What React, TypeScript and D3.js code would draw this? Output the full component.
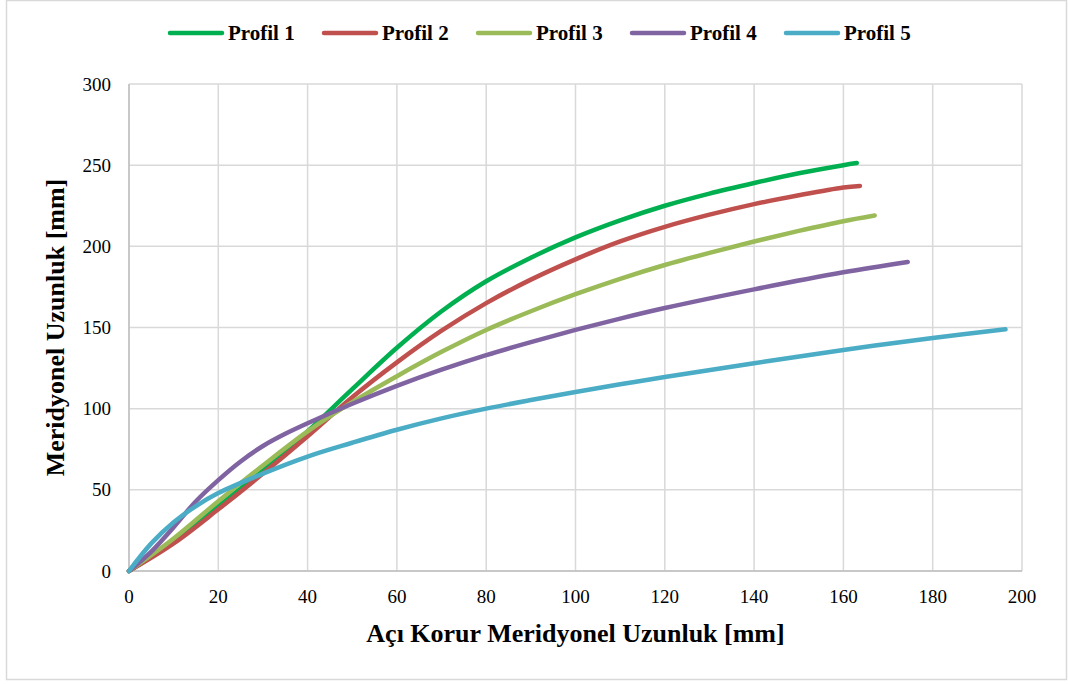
import React from "react";
import * as d3 from "d3";

const seriesNames = ["Profil 1", "Profil 2", "Profil 3", "Profil 4", "Profil 5"];
const seriesColors = ["#00B050", "#C0504D", "#9BBB59", "#8064A2", "#4BACC6"];

const profil1X = [0, 10, 20, 30, 40, 50, 60, 70, 80, 90, 100, 110, 120, 130, 140, 150, 160, 163];
const profil1Y = [0, 18, 40, 62, 86, 112, 137.5, 160, 178.5, 193, 205.5, 216, 225, 232.5, 239, 245, 250, 251.3];

const profil2X = [0, 10, 20, 30, 40, 50, 60, 70, 80, 90, 100, 110, 120, 130, 140, 150, 160, 163.7];
const profil2Y = [0, 17, 38, 60, 83, 107, 128.5, 148, 165, 179.5, 192, 203, 212, 219.5, 226, 231.5, 236.3, 237.2];

const profil3X = [0, 10, 20, 30, 40, 50, 60, 70, 80, 90, 100, 110, 120, 130, 140, 150, 160, 167];
const profil3Y = [0, 20, 43, 65, 86, 104, 120, 135, 148.5, 160, 170.5, 180, 188.5, 196, 203, 209.5, 215.5, 219];

const profil4X = [0, 5, 10, 15, 20, 25, 30, 35, 40, 50, 60, 70, 80, 90, 100, 110, 120, 140, 160, 174.4];
const profil4Y = [0, 12, 27, 43, 56, 67.5, 77, 84.5, 91, 103, 114, 124, 133, 141, 148.5, 155.5, 162, 173.5, 184, 190.4];

const profil5X = [0, 5, 10, 15, 20, 30, 40, 50, 60, 70, 80, 90, 100, 110, 120, 140, 160, 180, 196.3];
const profil5Y = [0, 17, 30, 40, 48, 60, 70.5, 79, 87, 94, 100, 105.3, 110.3, 115, 119.5, 128, 136.2, 143.5, 148.9];

const xTicks = [0, 20, 40, 60, 80, 100, 120, 140, 160, 180, 200];
const yTicks = [0, 50, 100, 150, 200, 250, 300];

const xTitle = "Açı Korur Meridyonel Uzunluk [mm]";
const yTitle = "Meridyonel Uzunluk [mm]";

const allX = [profil1X, profil2X, profil3X, profil4X, profil5X];
const allY = [profil1Y, profil2Y, profil3Y, profil4Y, profil5Y];

const W = 1068;
const H = 684;
const plot = { left: 129, right: 1022, top: 84, bottom: 571 };
const FONT = "'Liberation Serif', 'Times New Roman', serif";

export default function App() {
  const x = d3.scaleLinear().domain([0, 200]).range([plot.left, plot.right]);
  const y = d3.scaleLinear().domain([0, 300]).range([plot.bottom, plot.top]);
  const line = d3
    .line<[number, number]>()
    .x((d) => x(d[0]))
    .y((d) => y(d[1]))
    .curve(d3.curveCatmullRom.alpha(0.5));

  const legendStart = 170;
  const legendStep = 154;

  return (
    <svg
      width={W}
      height={H}
      style={{ position: "absolute", left: 0, top: 0, background: "#fff" }}
      fontFamily={FONT}
    >
      <rect x={0} y={0} width={W} height={H} fill="#fff" />
      <rect x={6.5} y={0.5} width={1060} height={679} fill="none" stroke="#D9D9D9" strokeWidth={1.5} />

      {/* gridlines */}
      {yTicks.map((t) => (
        <line key={"gy" + t} x1={plot.left} x2={plot.right} y1={y(t)} y2={y(t)} stroke="#D9D9D9" strokeWidth={1.5} />
      ))}
      {xTicks.map((t) => (
        <line key={"gx" + t} x1={x(t)} x2={x(t)} y1={plot.top} y2={plot.bottom} stroke="#D9D9D9" strokeWidth={1.5} />
      ))}
      {/* axes */}
      <line x1={plot.left} x2={plot.right} y1={plot.bottom} y2={plot.bottom} stroke="#BFBFBF" strokeWidth={1.5} />
      <line x1={plot.left} x2={plot.left} y1={plot.top} y2={plot.bottom} stroke="#BFBFBF" strokeWidth={1.5} />

      {/* tick labels */}
      {yTicks.map((t) => (
        <text key={"ty" + t} x={111} y={y(t)} dy="0.35em" textAnchor="end" fontSize={19} fill="#000">
          {t}
        </text>
      ))}
      {xTicks.map((t) => (
        <text key={"tx" + t} x={x(t)} y={603} textAnchor="middle" fontSize={19} fill="#000">
          {t}
        </text>
      ))}

      {/* series */}
      {allX.map((xs, i) => {
        const pts: [number, number][] = xs.map((v, j) => [v, allY[i][j]]);
        return (
          <path
            key={"s" + i}
            d={line(pts) || ""}
            fill="none"
            stroke={seriesColors[i]}
            strokeWidth={4.5}
            strokeLinecap="round"
            strokeLinejoin="round"
          />
        );
      })}

      {/* axis titles */}
      <text x={(plot.left + plot.right) / 2} y={642} textAnchor="middle" fontSize={26} fontWeight="bold" fill="#000">
        {xTitle}
      </text>
      <text
        transform={`translate(64, ${(plot.top + plot.bottom) / 2}) rotate(-90)`}
        textAnchor="middle"
        fontSize={26}
        fontWeight="bold"
        fill="#000"
      >
        {yTitle}
      </text>

      {/* legend */}
      {seriesNames.map((n, i) => {
        const lx = legendStart + i * legendStep;
        return (
          <g key={"lg" + i}>
            <line x1={lx} x2={lx + 52} y1={33} y2={33} stroke={seriesColors[i]} strokeWidth={4.5} strokeLinecap="round" />
            <text x={lx + 58} y={33} dy="0.35em" fontSize={21} fontWeight="bold" fill="#000">
              {n}
            </text>
          </g>
        );
      })}
    </svg>
  );
}
